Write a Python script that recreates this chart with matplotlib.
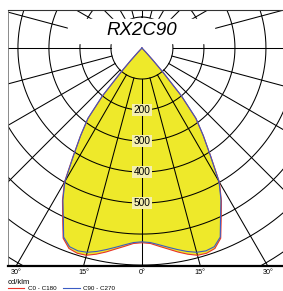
import numpy as np
import matplotlib
matplotlib.use("Agg")
from matplotlib import pyplot as plt
from matplotlib.patches import Rectangle
from matplotlib.lines import Line2D

plt.rcParams['font.family'] = ['Liberation Sans', 'DejaVu Sans']

# luminous intensity (cd/klm), symmetric about nadir
angles = [0, 2.5, 5, 7.5, 10, 12.5, 15, 17.5, 20, 22.5, 25, 27.5, 30, 32.5, 35, 37.5, 39.5, 41, 42, 43, 45]
c0_c180 = [628, 631, 642, 654, 668, 681, 692, 694, 688, 664, 605, 555, 500, 412, 345, 285, 198, 100, 52, 18, 0]
c90_c270 = [625, 628, 637, 648, 660, 672, 682, 686, 682, 660, 600, 552, 497, 410, 345, 287, 202, 104, 55, 19, 0]

rings = [100, 200, 300, 400, 500, 600, 700, 800]
ring_labels = [200, 300, 400, 500]
spoke_step = 15
tick_angles = [-30, -15, 0, 15, 30]
tick_labels = ["30°", "15°", "0°", "15°", "30°"]
title = "RX2C90"

yellow = "#eee92a"
red = "#e8322a"
blue = "#3b5cc4"

fig = plt.figure(figsize=(2.83, 2.91), dpi=100)
ax = fig.add_axes([8/283, 25/291, 275/283, 256/291])
x0, x1, y0, y1 = -432, 455, -703, 122.6
ax.set_xlim(x0, x1)
ax.set_ylim(y0, y1)


def polar_xy(ang, val):
    a = np.radians(np.concatenate([-np.array(ang[::-1]), np.array(ang[1:])]))
    v = np.concatenate([np.array(val[::-1]), np.array(val[1:])])
    return v*np.sin(a), -v*np.cos(a)


xr, yr = polar_xy(angles, c0_c180)
xb, yb = polar_xy(angles, c90_c270)
ax.fill(xr, yr, color=yellow, lw=0, zorder=1)
ax.fill(xb, yb, color=yellow, lw=0, zorder=1)

# grid
t = np.linspace(0, 2*np.pi, 400)
for r in rings:
    ax.plot(r*np.sin(t), r*np.cos(t), color="black", lw=0.75, zorder=2)
for a in np.arange(0, 360, spoke_step):
    a = np.radians(a)
    ax.plot([100*np.sin(a), 2000*np.sin(a)], [-100*np.cos(a), -2000*np.cos(a)],
            color="black", lw=0.75, zorder=2)

ax.plot(xr, yr, color=red, lw=0.8, zorder=3)
ax.plot(xb, yb, color=blue, lw=0.8, zorder=3)

for v in ring_labels:
    ax.text(0, -v, str(v), ha="center", va="center", fontsize=7.3, zorder=4,
            bbox=dict(boxstyle="square,pad=0.12", fc="#f4efb0", ec="none"))

ax.add_patch(Rectangle((-240, 16), 472, 78, color="white", zorder=5))
ax.text(0, 55, title, ha="center", va="center", fontsize=13.5, style="italic", zorder=6)

ax.set_xticks([y0*np.tan(np.radians(-a)) for a in tick_angles])
ax.set_xticklabels(tick_labels)
ax.set_yticks([])
ax.tick_params(axis="x", length=0, pad=2.5, labelsize=5.2)
ax.spines["right"].set_visible(False)
ax.spines["bottom"].set_linewidth(1.6)
ax.spines["top"].set_linewidth(0.8)
ax.spines["top"].set_color("#333333")
ax.spines["left"].set_linewidth(0.6)
ax.spines["left"].set_color("#777777")

fig.text(8/283, 9/291, "cd/klm", fontsize=5.5, va="center", ha="left")
fig.add_artist(Line2D([8/283, 24/283], [3/291, 3/291], color=red, lw=0.8))
fig.text(28/283, 3/291, "C0 - C180", fontsize=4.5, va="center", ha="left")
fig.add_artist(Line2D([63/283, 80/283], [3/291, 3/291], color=blue, lw=0.8))
fig.text(83/283, 3/291, "C90 - C270", fontsize=4.5, va="center", ha="left")

fig.savefig("out.png", dpi=100)
